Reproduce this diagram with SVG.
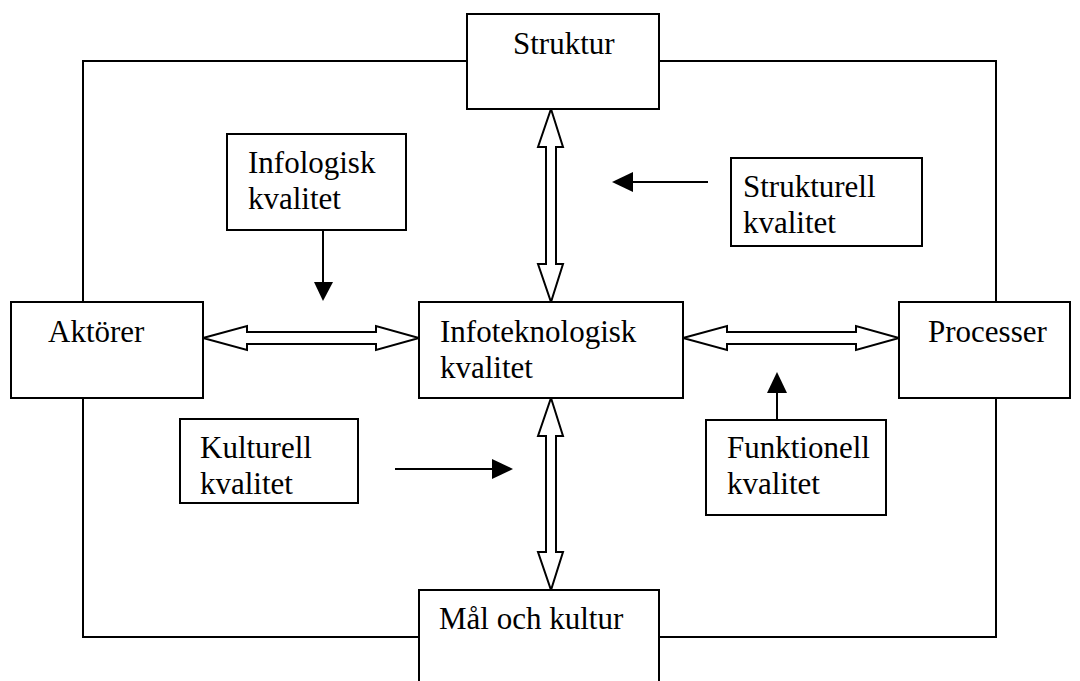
<svg xmlns="http://www.w3.org/2000/svg" width="1080" height="681" viewBox="0 0 1080 681">
<style>
  .box{fill:#fff;stroke:#000;stroke-width:2}
  .frame{fill:none;stroke:#000;stroke-width:2}
  .dbl{fill:#fff;stroke:#000;stroke-width:2;stroke-linejoin:miter}
  .ln{stroke:#000;stroke-width:2;fill:none}
  .hd{fill:#000;stroke:none}
  text{font-family:"Liberation Serif","Times New Roman",serif;font-size:31px;fill:#000}
</style>
<rect width="1080" height="681" fill="#fff"/>
<rect class="frame" x="83" y="61" width="913" height="576"/>
<g id="connectors">
  <polygon class="dbl" points="203,338 247,326 247,332 376,332 376,326 419,338 376,350 376,344 247,344 247,350"/>
  <polygon class="dbl" points="683,338 727,326 727,332 856,332 856,326 899,338 856,350 856,344 727,344 727,350"/>
  <polygon class="dbl" points="551,109 563,147 556,147 556,264 563,264 551,302 538,264 546,264 546,147 538,147"/>
  <polygon class="dbl" points="551,398 563,436 556,436 556,552 563,552 551,590 538,552 546,552 546,436 538,436"/>
  <line class="ln" x1="323" y1="230" x2="323" y2="284"/>
  <polygon class="hd" points="314,282 333,282 323,301"/>
  <line class="ln" x1="708" y1="182" x2="630" y2="182"/>
  <polygon class="hd" points="633,172 633,192 612,182"/>
  <line class="ln" x1="395" y1="469" x2="495" y2="469"/>
  <polygon class="hd" points="492,459 492,479 513,469"/>
  <line class="ln" x1="777" y1="421" x2="777" y2="390"/>
  <polygon class="hd" points="767,393 787,393 777,372"/>
</g>
<g id="struktur"><rect class="box" x="467" y="14" width="192" height="95"/><text x="513" y="54">Struktur</text></g>
<g id="aktorer"><rect class="box" x="11" y="302" width="192" height="96"/><text x="48" y="342">Aktörer</text></g>
<g id="processer"><rect class="box" x="899" y="302" width="171" height="96"/><text x="928" y="342">Processer</text></g>
<g id="infotek"><rect class="box" x="419" y="302" width="264" height="96"/><text x="440" y="342">Infoteknologisk</text><text x="440" y="378">kvalitet</text></g>
<g id="mal"><rect class="box" x="419" y="590" width="240" height="100"/><text x="439" y="629">Mål och kultur</text></g>
<g id="infologisk"><rect class="box" x="227" y="134" width="179" height="96"/><text x="248" y="173">Infologisk</text><text x="248" y="209">kvalitet</text></g>
<g id="strukturell"><rect class="box" x="731" y="158" width="191" height="88"/><text x="743" y="197">Strukturell</text><text x="743" y="233">kvalitet</text></g>
<g id="kulturell"><rect class="box" x="180" y="419" width="178" height="84"/><text x="200" y="458">Kulturell</text><text x="200" y="494">kvalitet</text></g>
<g id="funktionell"><rect class="box" x="706" y="420" width="180" height="95"/><text x="727" y="458">Funktionell</text><text x="727" y="494">kvalitet</text></g>
</svg>
